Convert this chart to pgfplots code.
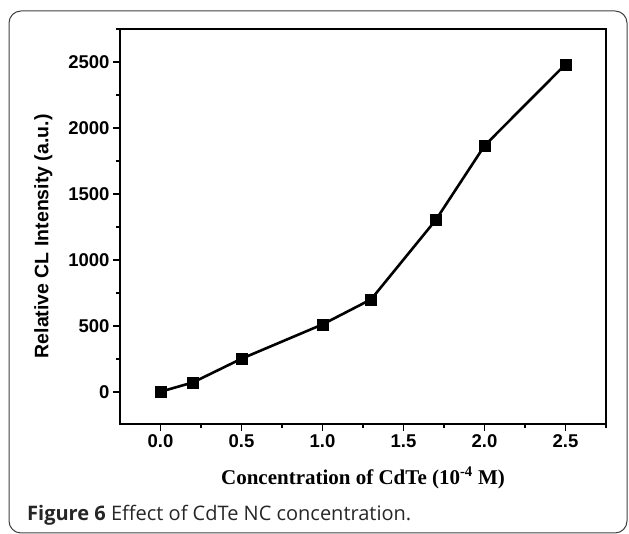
\documentclass[border=0pt]{standalone}
\usepackage{pgfplots}
\pgfplotsset{compat=1.18}
\usepackage{fontspec}
\newfontfamily\arialfont{Liberation Sans}
\newfontfamily\timesfont{Liberation Serif}
\newfontfamily\capfont{Open Sans}

\begin{document}
\begin{tikzpicture}
  \useasboundingbox (0pt,0pt) rectangle (629pt,534pt);
  % outer panel frame
  \begin{scope}
    \clip (0pt,0pt) rectangle (629pt,534pt);
    \draw[line width=1pt, black!75, rounded corners=12pt] (9pt,1pt) rectangle (627pt,523pt);
  \end{scope}

  \begin{axis}[
    at={(120pt,110pt)}, anchor=south west,
    scale only axis, width=486pt, height=395pt,
    xmin=-0.25, xmax=2.75, ymin=-245, ymax=2750,
    axis line style={line width=2.4pt},
    xtick={0,0.5,...,2.5}, minor xtick={0.25,0.75,...,2.75},
    ytick={0,500,...,2500}, minor ytick={-250,250,750,...,2750},
    tick align=outside, tick pos=left,
    major tick length=7pt, minor tick length=4pt,
    every tick/.style={line width=1.8pt, black},
    /pgf/number format/assume math mode=true,
    xticklabel style={/pgf/number format/.cd, fixed, fixed zerofill, precision=1},
    yticklabel style={/pgf/number format/.cd, 1000 sep={}},
    ticklabel style={font=\arialfont\bfseries\fontsize{18.5}{21}\selectfont},
    xlabel={Concentration of CdTe (10\textsuperscript{-4} M)},
    ylabel={Relative CL Intensity (a.u.)},
    xlabel style={font=\timesfont\bfseries\fontsize{21}{24}\selectfont,
                  at={(axis description cs:0.5,-0.137)}, anchor=center},
    ylabel style={font=\arialfont\bfseries\fontsize{19.5}{22}\selectfont,
                  at={(axis description cs:-0.158,0.475)}, anchor=center},
    clip=false,
  ]
    \addplot[black, line width=2.6pt, mark=square*, mark size=5.5pt,
             mark options={solid, fill=black, line width=0.5pt}]
      coordinates {
        (0.0,0) (0.2,70) (0.5,250) (1.0,510) (1.3,700)
        (1.7,1303) (2.0,1865) (2.5,2482)
      };
  \end{axis}

  \node[anchor=west, inner sep=0pt, text=black!85] at (27pt,19pt)
    {\capfont\fontsize{20}{23}\selectfont\textbf{Figure 6} Effect of CdTe NC concentration.};
\end{tikzpicture}
\end{document}
